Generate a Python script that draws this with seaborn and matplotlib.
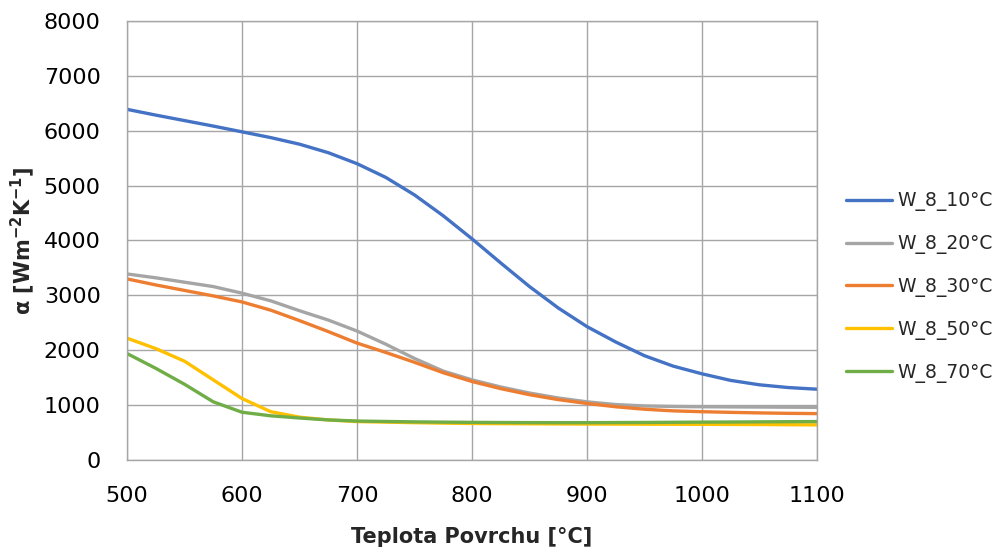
import numpy as np
import pandas as pd
import matplotlib
matplotlib.use("Agg")
import matplotlib.pyplot as plt
import seaborn as sns
from matplotlib.lines import Line2D

# ---- data ----
temps = [500, 525, 550, 575, 600, 625, 650, 675, 700, 725, 750, 775, 800,
         825, 850, 875, 900, 925, 950, 975, 1000, 1025, 1050, 1075, 1100]
w8_10 = [6390, 6285, 6185, 6085, 5980, 5875, 5755, 5600, 5400, 5150, 4830, 4450, 4030,
         3590, 3160, 2770, 2430, 2150, 1900, 1710, 1570, 1450, 1370, 1320, 1290]
w8_20 = [3390, 3320, 3240, 3160, 3040, 2900, 2720, 2550, 2350, 2110, 1850, 1620, 1460,
         1330, 1220, 1130, 1060, 1010, 985, 975, 970, 967, 965, 962, 960]
w8_30 = [3300, 3190, 3090, 2990, 2880, 2730, 2540, 2340, 2130, 1960, 1780, 1590, 1430,
         1300, 1190, 1100, 1030, 970, 925, 895, 880, 868, 858, 850, 845]
w8_50 = [2220, 2030, 1800, 1460, 1120, 880, 780, 730, 700, 690, 680, 672, 665,
         662, 660, 657, 655, 654, 652, 651, 650, 648, 646, 643, 640]
w8_70 = [1940, 1670, 1380, 1060, 870, 805, 765, 730, 710, 702, 695, 690, 686,
         683, 681, 680, 680, 682, 684, 687, 690, 692, 695, 698, 700]
series_names = ["W_8_10°C", "W_8_20°C", "W_8_30°C", "W_8_50°C", "W_8_70°C"]
colors = ["#4472C4", "#A5A5A5", "#ED7D31", "#FFC000", "#70AD47"]
x_ticks = [500, 600, 700, 800, 900, 1000, 1100]
y_ticks = [0, 1000, 2000, 3000, 4000, 5000, 6000, 7000, 8000]

frames = []
for name, vals in zip(series_names, [w8_10, w8_20, w8_30, w8_50, w8_70]):
    frames.append(pd.DataFrame({"T": temps, "alpha": vals, "series": name}))
df = pd.concat(frames, ignore_index=True)

sns.set_theme(style="white")
plt.rcParams["font.family"] = ["DejaVu Sans"]
plt.rcParams["mathtext.fontset"] = "dejavusans"

fig = plt.figure(figsize=(10.01, 5.54), dpi=100)
ax = fig.add_axes([0.1269, 0.1697, 0.8162 - 0.1269, 0.9621 - 0.1697])

sns.lineplot(data=df, x="T", y="alpha", hue="series", hue_order=series_names,
             palette=colors, linewidth=2.4, ax=ax, legend=False)

ax.set_xlim(500, 1100)
ax.set_ylim(0, 8000)
ax.set_xticks(x_ticks)
ax.set_yticks(y_ticks)
ax.grid(True, color="#A6A6A6", linewidth=1.0)
ax.set_axisbelow(True)
for s in ax.spines.values():
    s.set_color("#A6A6A6")
    s.set_linewidth(1.0)
ax.tick_params(axis="both", which="major", direction="out", length=7,
               width=1.0, color="#A6A6A6", labelsize=16, labelcolor="#000000")
ax.tick_params(axis="y", pad=12)
ax.tick_params(axis="x", pad=12)

ax.set_xlabel("Teplota Povrchu [°C]", fontsize=15, fontweight="bold")
ax.set_ylabel(r"α [Wm$^{\mathbf{-2}}$K$^{\mathbf{-1}}$]", fontsize=15,
              fontweight="bold")
ax.xaxis.set_label_coords(0.5, -0.152)
ax.yaxis.set_label_coords(-0.130, 0.5)

handles = [Line2D([0], [0], color=c, linewidth=2.4) for c in colors]
fig.legend(handles, series_names, loc="center left",
           bbox_to_anchor=(0.845, 0.482), frameon=False, fontsize=13.5,
           handlelength=2.45, handletextpad=0.28, labelspacing=1.22,
           borderaxespad=0.0, borderpad=0.0)

fig.savefig("out.png", dpi=100)
